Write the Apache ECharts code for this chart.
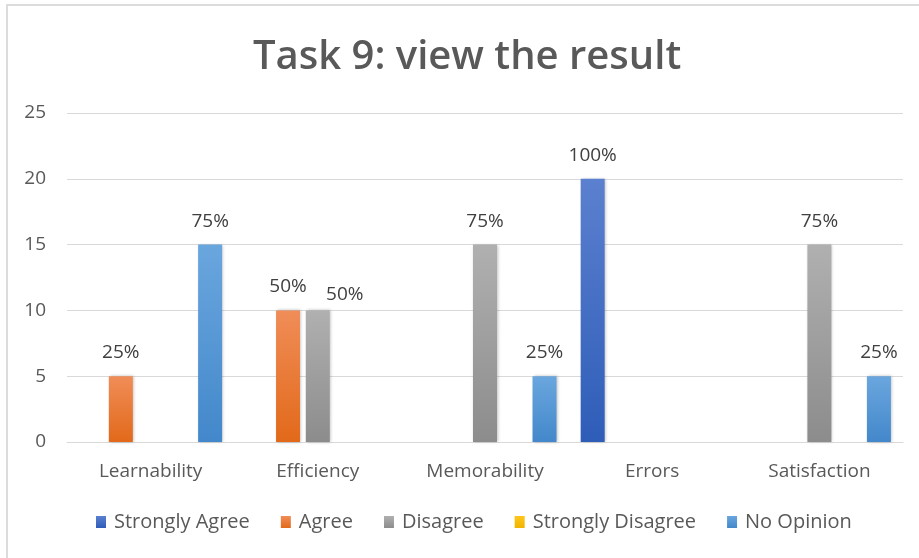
<!DOCTYPE html>
<html>
<head>
<meta charset="utf-8">
<script src="https://cdn.jsdelivr.net/npm/echarts@6/dist/echarts.min.js"></script>
<style>
  html, body { margin: 0; padding: 0; background: #fff; }
  #chart { width: 919px; height: 558px; }
</style>
</head>
<body>
<div id="chart"></div>
<script>
const categories = ['Learnability', 'Efficiency', 'Memorability', 'Errors', 'Satisfaction'];
const stronglyAgree = [0, 0, 0, 20, 0];
const agree = [5, 10, 0, 0, 0];
const disagree = [0, 10, 15, 0, 15];
const stronglyDisagree = [0, 0, 0, 0, 0];
const noOpinion = [15, 0, 5, 0, 5];
const respondents = 20;
const yTicks = [0, 5, 10, 15, 20, 25];

const grad = (top, bottom) => new echarts.graphic.LinearGradient(0, 0, 0, 1, [
  { offset: 0, color: top }, { offset: 1, color: bottom }
]);

// labelShift: {categoryIndex: [dx, dy]} to nudge labels that would collide
const mkSeries = (name, values, top, bottom, labelShift = {}) => ({
  name, type: 'bar',
  data: values.map((v, i) => labelShift[i] ? { value: v, label: { offset: labelShift[i] } } : v),
  barWidth: 24,
  barGap: '24%',
  itemStyle: { color: grad(top, bottom), shadowColor: 'rgba(0,0,0,0.25)', shadowBlur: 3, shadowOffsetX: 1 },
  label: {
    show: true, position: 'top', distance: 14,
    color: '#404040', fontSize: 19, fontFamily: 'Open Sans',
    formatter: p => p.value ? Math.round(p.value / respondents * 100) + '%' : ''
  }
});

const chart = echarts.init(document.getElementById('chart'));
chart.setOption({
  animation: false,
  backgroundColor: '#fff',
  title: {
    text: 'Task 9: view the result', left: 248, top: 33,
    textStyle: { fontFamily: 'Open Sans', fontWeight: 600, fontSize: 40, color: '#595959' }
  },
  graphic: [
    { type: 'rect', shape: { x: 6, y: 4, width: 913, height: 2 }, style: { fill: '#dcdcdc' } },
    { type: 'rect', shape: { x: 6, y: 4, width: 2, height: 554 }, style: { fill: '#dcdcdc' } }
  ],
  legend: {
    bottom: 21, left: 91, itemWidth: 10, itemHeight: 12, itemGap: 31,
    icon: 'rect',
    textStyle: { color: '#595959', fontSize: 20, fontFamily: 'Open Sans', padding: [0, 0, 0, 3] }
  },
  grid: { left: 67, right: 16, top: 113, bottom: 116 },
  xAxis: {
    type: 'category', data: categories,
    axisLine: { lineStyle: { color: '#d9d9d9' } },
    axisTick: { show: false },
    axisLabel: { color: '#595959', fontSize: 19, fontFamily: 'Open Sans', margin: 20 }
  },
  yAxis: {
    type: 'value', min: yTicks[0], max: yTicks[yTicks.length - 1], interval: 5,
    axisLine: { show: false }, axisTick: { show: false },
    splitLine: { lineStyle: { color: '#d9d9d9' } },
    axisLabel: { color: '#595959', fontSize: 19, fontFamily: 'Open Sans', margin: 21 }
  },
  series: [
    mkSeries('Strongly Agree', stronglyAgree, '#5b80cf', '#2e5db8'),
    mkSeries('Agree', agree, '#f08d58', '#e2691a'),
    mkSeries('Disagree', disagree, '#b0b0b0', '#8c8c8c', { 1: [27, 8] }),
    mkSeries('Strongly Disagree', stronglyDisagree, '#ffc61a', '#f0b400'),
    mkSeries('No Opinion', noOpinion, '#6aa6de', '#4388cb')
  ],
  color: ['#4472c4', '#ed7d31', '#a5a5a5', '#ffc000', '#5b9bd5']
});
</script>
</body>
</html>
